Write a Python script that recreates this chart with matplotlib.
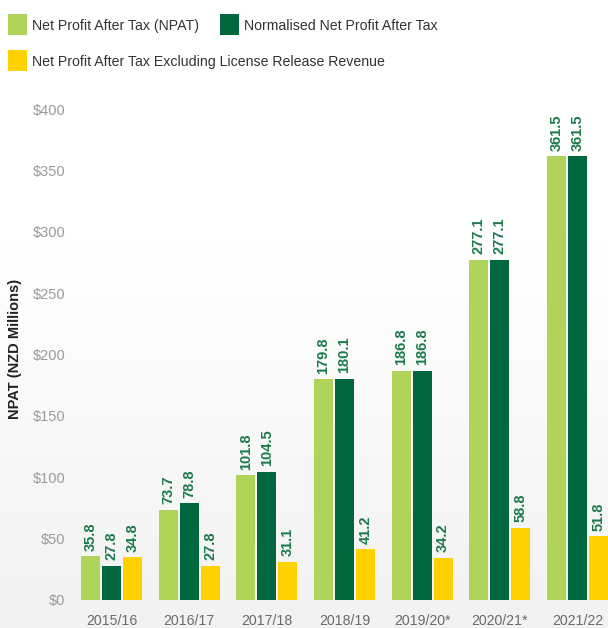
import matplotlib
matplotlib.use("Agg")
import matplotlib.pyplot as plt
import numpy as np
from matplotlib.patches import Rectangle

years = ["2015/16", "2016/17", "2017/18", "2018/19", "2019/20*", "2020/21*", "2021/22"]
npat = [35.8, 73.7, 101.8, 179.8, 186.8, 277.1, 361.5]
normalised = [27.8, 78.8, 104.5, 180.1, 186.8, 277.1, 361.5]
excl_license = [34.8, 27.8, 31.1, 41.2, 34.2, 58.8, 51.8]
series_names = ["Net Profit After Tax (NPAT)", "Normalised Net Profit After Tax",
                "Net Profit After Tax Excluding License Release Revenue"]
yticks = [0, 50, 100, 150, 200, 250, 300, 350, 400]

c_light = "#b0d35a"
c_dark = "#00673e"
c_yellow = "#ffd100"
label_color = "#1b7a4c"

plt.rcParams['font.family'] = ['Liberation Sans', 'DejaVu Sans']

W, H = 608, 628
fig = plt.figure(figsize=(W / 100, H / 100), dpi=100)

# subtle background gradient (decorative): white at top, light gray at bottom
bg = fig.add_axes([0, 0, 1, 1], zorder=0)
t = np.linspace(0, 1, 300)  # 0 = bottom, 1 = top
fade = np.clip((0.62 - t) / 0.62, 0, 1)
lvl = 1.0 - 0.05 * fade
img = np.repeat(lvl[:, None, None], 3, axis=2)
bg.imshow(img, aspect='auto', extent=[0, 1, 0, 1], origin='lower')
bg.set_xlim(0, 1); bg.set_ylim(0, 1)
bg.axis('off')

left_px, right_px = 75, 608
bot_px, top_px = 600, 109
ax = fig.add_axes([left_px / W, (H - bot_px) / H, (right_px - left_px) / W, (bot_px - top_px) / H], zorder=1)
ax.patch.set_alpha(0)

x = np.arange(len(years))
off = 0.27
bw = 0.245
series = [npat, normalised, excl_license]
colors = [c_light, c_dark, c_yellow]
for i, (vals, col) in enumerate(zip(series, colors)):
    pos = x + (i - 1) * off
    ax.bar(pos, vals, width=bw, color=col, linewidth=0, zorder=2)
    for px_, v in zip(pos, vals):
        ax.text(px_, v + 4.5, f"{v:.1f}", rotation=90, ha='center', va='bottom',
                fontsize=10.5, fontweight='bold', color=label_color, clip_on=False)

ax.set_xlim(-0.469, 6.392)
ax.set_ylim(0, 400)
ax.set_yticks(yticks)
ax.set_yticklabels([f"${t}" for t in yticks], color="#9a9a9a", fontsize=10.5)
ax.set_xticks(x)
ax.set_xticklabels(years, color="#6a6a6a", fontsize=10.2)
ax.tick_params(axis='both', length=0)
ax.tick_params(axis='y', pad=7)
ax.tick_params(axis='x', pad=10)
for s in ax.spines.values():
    s.set_visible(False)

fig.text(15 / W, 1 - 349 / H, "NPAT (NZD Millions)", rotation=90, ha='center', va='center',
         fontsize=10.5, fontweight='bold', color="#222222")

# legend
legend_items = [(8, 14, series_names[0], c_light), (220, 14, series_names[1], c_dark),
                (8, 50, series_names[2], c_yellow)]
for lx, ly, name, col in legend_items:
    fig.add_artist(Rectangle((lx / W, 1 - (ly + 21) / H), 19 / W, 21 / H,
                             transform=fig.transFigure, color=col, linewidth=0))
    fig.text((lx + 24) / W, 1 - (ly + 12) / H, name, ha='left', va='center',
             fontsize=10.2, color="#333333")

fig.savefig("out.png", dpi=100)
